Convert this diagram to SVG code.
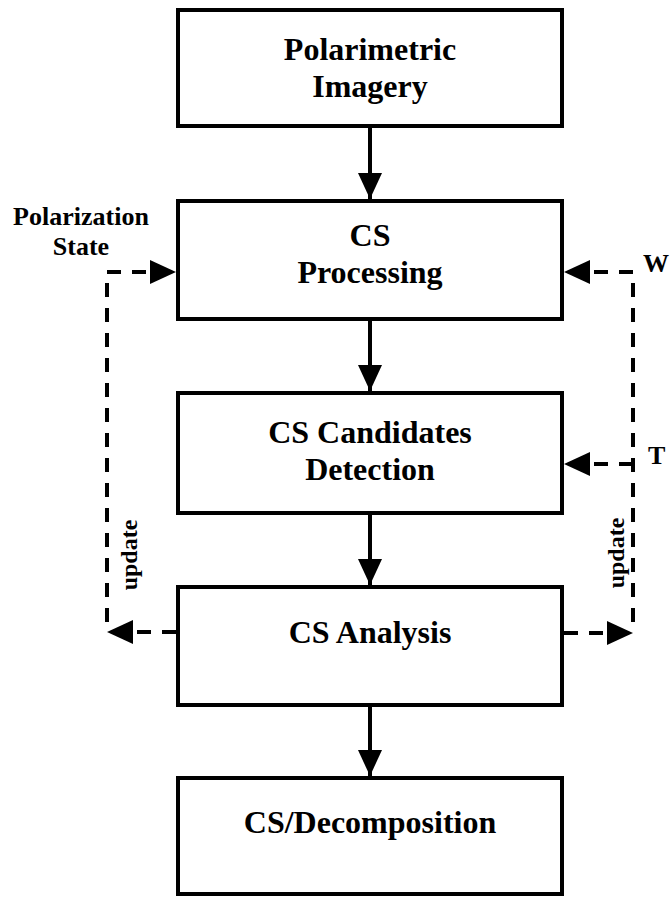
<svg xmlns="http://www.w3.org/2000/svg" width="670" height="897" viewBox="0 0 670 897">
<style>
.box{fill:#fff;stroke:#000;stroke-width:4}
.t{font-family:"Liberation Serif","Times New Roman",serif;font-weight:bold;font-size:32px;fill:#000;text-anchor:middle}
.lbl{font-family:"Liberation Serif","Times New Roman",serif;font-weight:bold;font-size:26px;fill:#000}
.upd{font-family:"Liberation Serif","Times New Roman",serif;font-weight:bold;font-size:24px;fill:#000;text-anchor:middle}
.solid{fill:none;stroke:#000;stroke-width:4}
.dash{fill:none;stroke:#000;stroke-width:4;stroke-dasharray:14 11}
</style>
<defs>
<marker id="ah" viewBox="0 0 26 24" markerWidth="26" markerHeight="24" refX="26" refY="12" orient="auto" markerUnits="userSpaceOnUse">
<polygon points="0,0 26,12 0,24" fill="#000"/>
</marker>
</defs>
<rect width="670" height="897" fill="#fff"/>
<g id="connectors">
<line class="solid" x1="370" y1="127" x2="370" y2="199" marker-end="url(#ah)"/>
<line class="solid" x1="370" y1="320" x2="370" y2="391" marker-end="url(#ah)"/>
<line class="solid" x1="370" y1="514" x2="370" y2="585" marker-end="url(#ah)"/>
<line class="solid" x1="370" y1="706" x2="370" y2="776" marker-end="url(#ah)"/>
<path class="dash" d="M107 622 V272 H176" marker-end="url(#ah)"/>
<path class="dash" d="M176 632 H107" marker-end="url(#ah)"/>
<path class="dash" d="M633 622 V272 H564" marker-end="url(#ah)"/>
<path class="dash" d="M633 464 H564" marker-end="url(#ah)"/>
<path class="dash" d="M564 633 H633" marker-end="url(#ah)"/>
</g>
<g id="n1"><rect class="box" x="178" y="10" width="384" height="116"/>
<text class="t" x="370" y="60">Polarimetric</text><text class="t" x="370" y="97">Imagery</text></g>
<g id="n2"><rect class="box" x="178" y="201" width="384" height="118"/>
<text class="t" x="370" y="246">CS</text><text class="t" x="370" y="283">Processing</text></g>
<g id="n3"><rect class="box" x="178" y="393" width="384" height="120"/>
<text class="t" x="370" y="443">CS Candidates</text><text class="t" x="370" y="480">Detection</text></g>
<g id="n4"><rect class="box" x="178" y="587" width="384" height="118"/>
<text class="t" x="370" y="643">CS Analysis</text></g>
<g id="n5"><rect class="box" x="178" y="778" width="384" height="116"/>
<text class="t" x="370" y="833">CS/Decomposition</text></g>
<g id="labels">
<text class="lbl" x="81" y="225" text-anchor="middle">Polarization</text>
<text class="lbl" x="81" y="255" text-anchor="middle">State</text>
<text class="lbl" x="643" y="272">W</text>
<text class="lbl" x="648" y="464">T</text>
<text class="upd" transform="translate(137 555) rotate(-90)">update</text>
<text class="upd" transform="translate(624 553) rotate(-90)">update</text>
</g>
</svg>
